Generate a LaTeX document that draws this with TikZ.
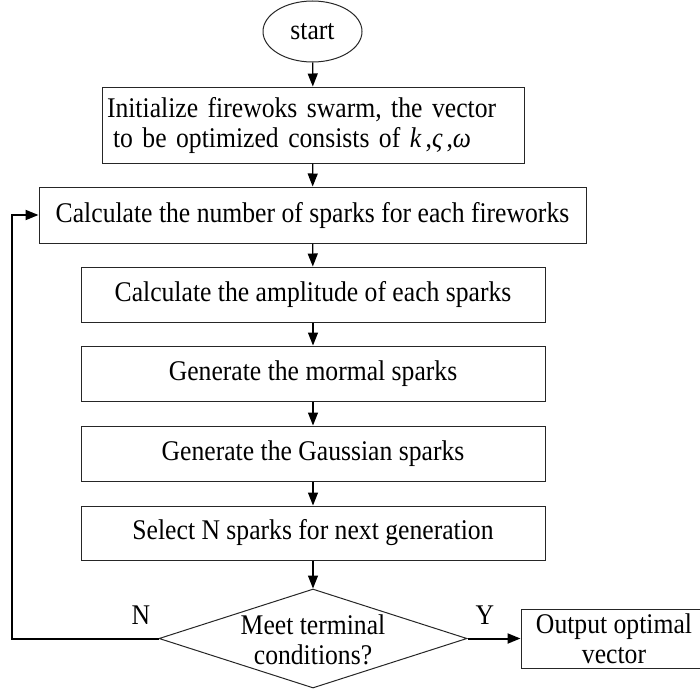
\documentclass[tikz,border=0pt]{standalone}
\usepackage{fontspec}
\setmainfont[FakeStretch=0.9]{Liberation Serif}
\usetikzlibrary{shapes.geometric,arrows.meta}

\begin{document}
\begin{tikzpicture}[x=1pt,y=-1pt,
  every node/.style={font=\fontsize{28.5}{30}\selectfont},
  procbox/.style={draw=black!85,line width=1pt,fill=white,rectangle,inner sep=0pt,align=center},
  flow/.style={draw=black,line width=1.2pt,-{Triangle[length=13pt,width=10pt]}},
  backflow/.style={draw=black,line width=2pt,-{Triangle[length=13pt,width=10pt]}},
  lbl/.style={inner sep=0pt}
]
\useasboundingbox (0,0) rectangle (700,693);

% start terminal
\node[draw=black!85,line width=1pt,ellipse,minimum width=99pt,minimum height=61pt,inner sep=0pt] (start) at (312.5,31.5) {start};

% process steps
\node[procbox,minimum width=422pt,minimum height=76pt,text width=412pt,align=left] (init) at (313,125)
  {Initialize firewoks swarm, the vector\\\hspace*{6pt}to be optimized consists of \textit{k}\hspace{4pt},\textit{ς}\hspace{4pt},\textit{ω}};
\node[procbox,minimum width=547pt,minimum height=56pt] (num) at (312.5,215) {Calculate the number of sparks for each fireworks};
\node[procbox,minimum width=464pt,minimum height=55pt] (amp) at (313,294.5) {Calculate the amplitude of each sparks};
\node[procbox,minimum width=464pt,minimum height=55pt] (norm) at (313,373.5) {Generate the mormal sparks};
\node[procbox,minimum width=464pt,minimum height=55pt] (gauss) at (313,453.5) {Generate the Gaussian sparks};
\node[procbox,minimum width=464pt,minimum height=54pt] (sel) at (313,533) {Select N sparks for next generation};

% decision
\node[draw=black!85,line width=1pt,diamond,aspect=3.11,minimum width=308pt,minimum height=99pt,inner sep=0pt] (cond) at (313,638.5) {};
\node[lbl,align=center] (condtext) at (313,640) {Meet terminal\\conditions?};

% output
\node[procbox,minimum width=186pt,minimum height=59pt] (out) at (614,638.5) {Output optimal\\vector};

% main flow
\draw[flow] (start) -- (init);
\draw[flow] (init) -- (num);
\draw[flow] (num) -- (amp);
\draw[flow] (amp) -- (norm);
\draw[flow] (norm) -- (gauss);
\draw[flow] (gauss) -- (sel);
\draw[flow] (sel) -- (cond.north);
\draw[backflow] (cond.east) -- (out.west);

% loop back when the condition fails
\coordinate (loopA) at (12,638.5);
\coordinate (loopB) at (12,215);
\draw[backflow] (cond.west) -- (loopA) -- (loopB) -- (num.west);

% branch labels
\node[lbl] (nlabel) at (141,615) {N};
\node[lbl] (ylabel) at (485,615) {Y};
\end{tikzpicture}
\end{document}
